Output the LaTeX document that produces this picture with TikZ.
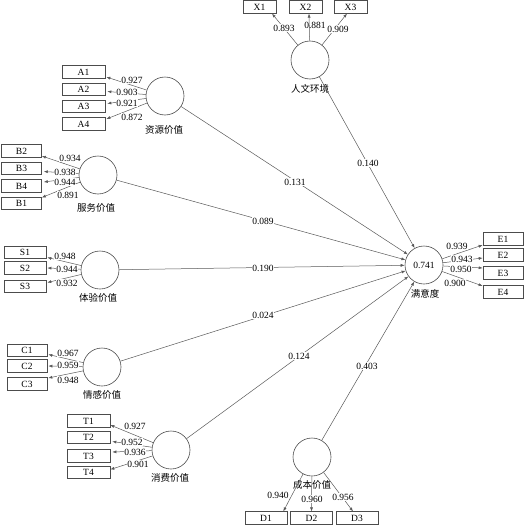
\documentclass[tikz,border=0pt]{standalone}
\usepackage{fontspec}
\setmainfont{Liberation Serif}
\newfontfamily\cjk{Noto Sans CJK SC}
\usetikzlibrary{arrows.meta,calc}
\begin{document}
\begin{tikzpicture}[x=1pt,y=-1pt,font=\fontsize{9.5}{11}\selectfont,
  lv/.style={circle,draw=black!70,line width=0.6pt,minimum size=38pt,inner sep=0pt},
  mv/.style={rectangle,draw=black!70,line width=0.6pt,minimum height=12.5pt,inner sep=0pt},
  arr/.style={draw=black!65,line width=0.5pt,-{Latex[length=4pt,width=3pt]}},
  lbl/.style={fill=white,inner sep=0.4pt},
  cn/.style={font=\cjk\fontsize{9.5}{11}\selectfont,inner sep=0pt}]
\useasboundingbox (0,0) rectangle (525,525);

% latent variables
\node[lv] (H) at (310,60) {};
\node[cn] (Hl) at (310,89) {人文环境};
\node[lv] (Y) at (424,265) {0.741};
\node[cn] (Yl) at (425,294) {满意度};
\node[lv] (A) at (165,96) {};
\node[cn] (Al) at (164,130) {资源价值};
\node[lv] (B) at (98,175) {};
\node[cn] (Bl) at (96,208) {服务价值};
\node[lv] (S) at (100,270) {};
\node[cn] (Sl) at (98,298) {体验价值};
\node[lv] (C) at (102,367) {};
\node[cn] (Cl) at (102,395) {情感价值};
\node[lv] (T) at (171,450) {};
\node[cn] (Tl) at (170,478) {消费价值};
\node[lv] (D) at (312,457) {};
\node[cn] (Dl) at (312,485) {成本价值};

% indicators
\node[mv,minimum width=33pt] (X1) at (259.5,7) {X1};
\node[mv,minimum width=33pt] (X2) at (305.5,7) {X2};
\node[mv,minimum width=33pt] (X3) at (350.5,7) {X3};
\node[mv,minimum width=40pt] (E1) at (503,239) {E1};
\node[mv,minimum width=40pt] (E2) at (503,255) {E2};
\node[mv,minimum width=40pt] (E3) at (503,273) {E3};
\node[mv,minimum width=40pt] (E4) at (503,292) {E4};
\node[mv,minimum width=43pt] (A1) at (83.5,72) {A1};
\node[mv,minimum width=43pt] (A2) at (83.5,89.5) {A2};
\node[mv,minimum width=43pt] (A3) at (83.5,106.5) {A3};
\node[mv,minimum width=43pt] (A4) at (83.5,124) {A4};
\node[mv,minimum width=40pt] (B2) at (21.5,151) {B2};
\node[mv,minimum width=40pt] (B3) at (21.5,168.5) {B3};
\node[mv,minimum width=40pt] (B4) at (21.5,186) {B4};
\node[mv,minimum width=40pt] (B1) at (21.5,203.5) {B1};
\node[mv,minimum width=42pt] (S1) at (25,252.5) {S1};
\node[mv,minimum width=42pt] (S2) at (25,268) {S2};
\node[mv,minimum width=42pt] (S3) at (25,286.5) {S3};
\node[mv,minimum width=40pt] (C1) at (27,350.5) {C1};
\node[mv,minimum width=40pt] (C2) at (27,366) {C2};
\node[mv,minimum width=40pt] (C3) at (27,384) {C3};
\node[mv,minimum width=43pt] (T1) at (88.5,421) {T1};
\node[mv,minimum width=43pt] (T2) at (88.5,437.5) {T2};
\node[mv,minimum width=43pt] (T3) at (88.5,456) {T3};
\node[mv,minimum width=43pt] (T4) at (88.5,472.5) {T4};
\node[mv,minimum width=42pt] (D1) at (266,518) {D1};
\node[mv,minimum width=42pt] (D2) at (311.5,518) {D2};
\node[mv,minimum width=42pt] (D3) at (357,518) {D3};

% structural paths
\draw[arr] (H) -- (Y);
\draw[arr] (A) -- (Y);
\draw[arr] (B) -- (Y);
\draw[arr] (S) -- (Y);
\draw[arr] (C) -- (Y);
\draw[arr] (T) -- (Y);
\draw[arr] (D) -- (Y);
\node[lbl] (p1) at (368,163) {0.140};
\node[lbl] (p2) at (295,182) {0.131};
\node[lbl] (p3) at (263,221) {0.089};
\node[lbl] (p4) at (263,268) {0.190};
\node[lbl] (p5) at (263,315) {0.024};
\node[lbl] (p6) at (299,356) {0.124};
\node[lbl] (p7) at (367,366) {0.403};

% outer loadings
\draw[arr] (H) -- ($(X1.south)+(12.5,0)$);
\draw[arr] (H) -- ($(X2.south)+(3.5,0)$);
\draw[arr] (H) -- ($(X3.south)+(-3.5,0)$);
\node[lbl] (lx1) at (284,28) {0.893};
\node[lbl,fill=none] (lx2) at (315,25) {0.881};
\node[lbl] (lx3) at (338,29) {0.909};

\draw[arr] (Y) -- ($(E1.west)+(0,6)$);
\draw[arr] (Y) -- ($(E2.west)+(0,3)$);
\draw[arr] (Y) -- ($(E3.west)+(0,-5)$);
\draw[arr] (Y) -- ($(E4.west)+(0,-6)$);
\node[lbl] (le1) at (457,246) {0.939};
\node[lbl] (le2) at (462,259) {0.943};
\node[lbl] (le3) at (461,269) {0.950};
\node[lbl] (le4) at (455,283) {0.900};

\draw[arr] (A) -- ($(A1.east)+(1,5)$);
\draw[arr] (A) -- ($(A2.east)+(2,2)$);
\draw[arr] (A) -- ($(A3.east)+(2,-3)$);
\draw[arr] (A) -- ($(A4.east)+(1,-5)$);
\node[lbl] (la1) at (132,80) {0.927};
\node[lbl] (la2) at (127,92) {0.903};
\node[lbl] (la3) at (127,103) {0.921};
\node[lbl] (la4) at (132,117) {0.872};

\draw[arr] (B) -- ($(B2.east)+(0,5)$);
\draw[arr] (B) -- ($(B3.east)+(2,3)$);
\draw[arr] (B) -- ($(B4.east)+(2,-4)$);
\draw[arr] (B) -- ($(B1.east)+(0,-6)$);
\node[lbl] (lb2) at (70,158) {0.934};
\node[lbl] (lb3) at (65,172) {0.938};
\node[lbl] (lb4) at (65,182) {0.944};
\node[lbl] (lb1) at (68,195) {0.891};

\draw[arr] (S) -- ($(S1.east)+(1,5)$);
\draw[arr] (S) -- ($(S2.east)+(1,0)$);
\draw[arr] (S) -- ($(S3.east)+(1,-4)$);
\node[lbl] (ls1) at (65,256) {0.948};
\node[lbl] (ls2) at (67,269) {0.944};
\node[lbl] (ls3) at (67,283) {0.932};

\draw[arr] (C) -- ($(C1.east)+(1,4)$);
\draw[arr] (C) -- ($(C2.east)+(1,0)$);
\draw[arr] (C) -- ($(C3.east)+(1,-6)$);
\node[lbl] (lc1) at (68,353) {0.967};
\node[lbl] (lc2) at (68,365) {0.959};
\node[lbl] (lc3) at (68,380) {0.948};

\draw[arr] (T) -- ($(T1.east)+(0,4)$);
\draw[arr] (T) -- ($(T2.east)+(2,4)$);
\draw[arr] (T) -- ($(T3.east)+(2,-4)$);
\draw[arr] (T) -- ($(T4.east)+(0,-3)$);
\node[lbl] (lt1) at (135,426) {0.927};
\node[lbl] (lt2) at (132,442) {0.952};
\node[lbl] (lt3) at (135,452) {0.936};
\node[lbl] (lt4) at (138,464) {0.901};

\draw[arr] (D) -- ($(D1.north east)+(-4,0)$);
\draw[arr] (D) -- (D2.north);
\draw[arr] (D) -- ($(D3.north)+(-4,0)$);
\node[lbl] (ld1) at (278,495) {0.940};
\node[lbl] (ld2) at (312,499) {0.960};
\node[lbl] (ld3) at (343,497) {0.956};
\end{tikzpicture}
\end{document}
